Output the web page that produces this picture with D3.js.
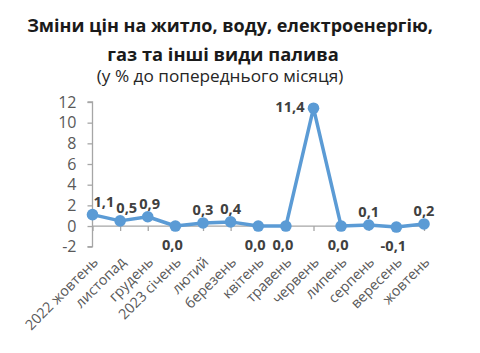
<!DOCTYPE html>
<html><head><meta charset="utf-8">
<script src="https://cdn.jsdelivr.net/npm/d3@7"></script>
<style>body{margin:0;background:#fff}svg{display:block}</style>
</head><body>
<svg id="c" width="480" height="353"></svg>
<script>
const titleLines = ["Зміни цін на житло, воду, електроенергію,", "газ та інші види палива"];
const subtitle = "(у % до попереднього місяця)";
const categories = ["2022 жовтень","листопад","грудень","2023 січень","лютий","березень","квітень","травень","червень","липень","серпень","вересень","жовтень"];
const values = [1.1, 0.5, 0.9, 0.0, 0.3, 0.4, 0.0, 0.0, 11.4, 0.0, 0.1, -0.1, 0.2];
const yTicks = [-2, 0, 2, 4, 6, 8, 10, 12];

const svg = d3.select("#c");
const font = "'Open Sans', sans-serif";
const blue = "#5b9bd5";
const axisCol = "#a6a6a6";

svg.append("text").attr("x", 230).attr("y", 32).attr("text-anchor","middle")
  .attr("font-family", font).attr("font-weight","bold").attr("font-size",18).attr("fill","#1a1a1a").text(titleLines[0]);
svg.append("text").attr("x", 223).attr("y", 61).attr("text-anchor","middle")
  .attr("font-family", font).attr("font-weight","bold").attr("font-size",18.3).attr("fill","#1a1a1a").text(titleLines[1]);
svg.append("text").attr("x", 220).attr("y", 82).attr("text-anchor","middle")
  .attr("font-family", font).attr("font-size",17.2).attr("fill","#262626").text(subtitle);

const x = d3.scalePoint().domain(categories).range([92.5, 424]);
const y = d3.scaleLinear().domain([-2, 12]).range([246.7, 102]);

const yAxis = svg.append("g").attr("transform","translate(92.5,0)")
  .call(d3.axisLeft(y).tickValues(yTicks).tickSize(5).tickPadding(11).tickFormat(d => String(d)));
yAxis.select(".domain").attr("d", `M-5,${y(12)}H0V${y(-2)}H-5`).attr("stroke", axisCol).attr("stroke-width",1.3);
yAxis.selectAll(".tick line").attr("stroke", axisCol).attr("stroke-width",1.3);
yAxis.selectAll(".tick text").attr("font-family", font).attr("font-size",16).attr("fill","#595959");

const xAxis = svg.append("g").attr("transform",`translate(0,${y(0)})`)
  .call(d3.axisBottom(x).tickSize(5).tickPadding(0));
xAxis.select(".domain").attr("d", `M${x.range()[0]},0H${x.range()[1]}`).attr("stroke", axisCol).attr("stroke-width",1.3);
xAxis.selectAll(".tick line").attr("stroke", axisCol).attr("stroke-width",1.3);
xAxis.selectAll(".tick text").attr("font-family", font).attr("font-size",14.3).attr("fill","#595959")
  .attr("text-anchor","end").attr("dy", null).attr("y", null)
  .attr("transform","translate(6,37) rotate(-45)");

const pts = categories.map((c,i) => ({c, v: values[i]}));
svg.append("path").datum(pts)
  .attr("d", d3.line().x(d => x(d.c)).y(d => y(d.v)))
  .attr("fill","none").attr("stroke", blue).attr("stroke-width",3.5).attr("stroke-linejoin","round");
svg.selectAll("circle.m").data(pts).join("circle").attr("class","m")
  .attr("cx", d => x(d.c)).attr("cy", d => y(d.v)).attr("r",5.8).attr("fill", blue);

const fmt = v => v.toFixed(1).replace(".", ",");
const vmax = d3.max(values);
const lbl = svg.append("g").attr("font-family", font).attr("font-weight","bold").attr("font-size",14.6).attr("fill","#404040");
let prevRight = -Infinity, prevTop = null;
pts.forEach(d => {
  const t = lbl.append("text").text(fmt(d.v));
  const px = x(d.c), py = y(d.v);
  const w = t.node().getComputedTextLength();
  if (d.v === vmax) {
    t.attr("text-anchor","end").attr("x", px - 9).attr("y", py + 4);
    prevRight = -Infinity;
  } else if (d.v <= 0) {
    t.attr("text-anchor","middle").attr("x", px - 3).attr("y", py + 24);
    prevRight = -Infinity;
  } else {
    let cx = Math.max(px, x.range()[0] + w/2 + 1);
    if (cx - w/2 < prevRight + 2) cx = prevRight + 2 + w/2;
    t.attr("text-anchor","middle").attr("x", cx).attr("y", py - 8);
    prevRight = cx + w/2;
  }
});
</script>
</body></html>
